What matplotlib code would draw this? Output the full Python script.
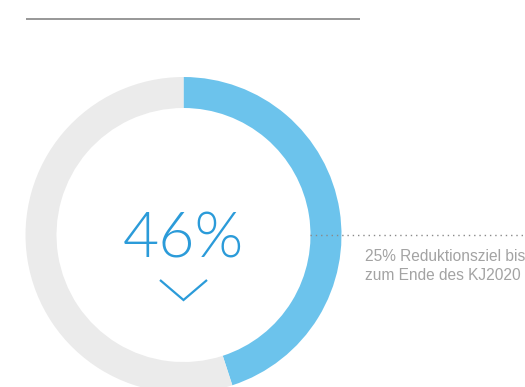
import matplotlib
matplotlib.use("Agg")
import matplotlib.pyplot as plt
from matplotlib import font_manager

# data
categories = ["Erreicht", "Rest"]
values = [45, 55]
center_label = "46%"
note_lines = ["25% Reduktionsziel bis", "zum Ende des KJ2020"]
colors = ["#6cc3ec", "#ebebeb"]

W, H = 525, 387
fig = plt.figure(figsize=(W / 100, H / 100), dpi=100)
ax = fig.add_axes([0, 0, 1, 1])

cx, cy = 183.5, H - 235
ax.pie(values, startangle=90, counterclock=False, radius=158, center=(cx, cy),
       colors=colors, wedgeprops=dict(width=31, linewidth=0))
ax.set_xlim(0, W)
ax.set_ylim(0, H)
ax.set_aspect("equal")
ax.axis("off")

# top rule
ax.plot([26, 360], [H - 18.5, H - 18.5], color="#7a7a7a", lw=1.1, solid_capstyle="butt")

# dotted guide line
ax.plot([310, W], [H - 235, H - 235], color="#8a8a8a", lw=1.0, dashes=(1.0, 2.8))

avail = {f.name for f in font_manager.fontManager.ttflist}
light_family = "Lato" if "Lato" in avail else "DejaVu Sans"

ax.text(cx, H - 258, center_label, ha="center", va="baseline", fontsize=45,
        color="#2b9bd9", family=light_family, fontweight=300)

# chevron
ax.plot([160, cx, 207], [H - 280, H - 300, H - 280], color="#2b9bd9", lw=1.6,
        solid_joinstyle="miter", solid_capstyle="butt")

for i, line in enumerate(note_lines):
    ax.text(365, H - (261 + i * 18.5), line, ha="left", va="baseline", fontsize=11.2,
            color="#a3a3a3", family="Liberation Sans")

fig.savefig("out.png", dpi=100)
